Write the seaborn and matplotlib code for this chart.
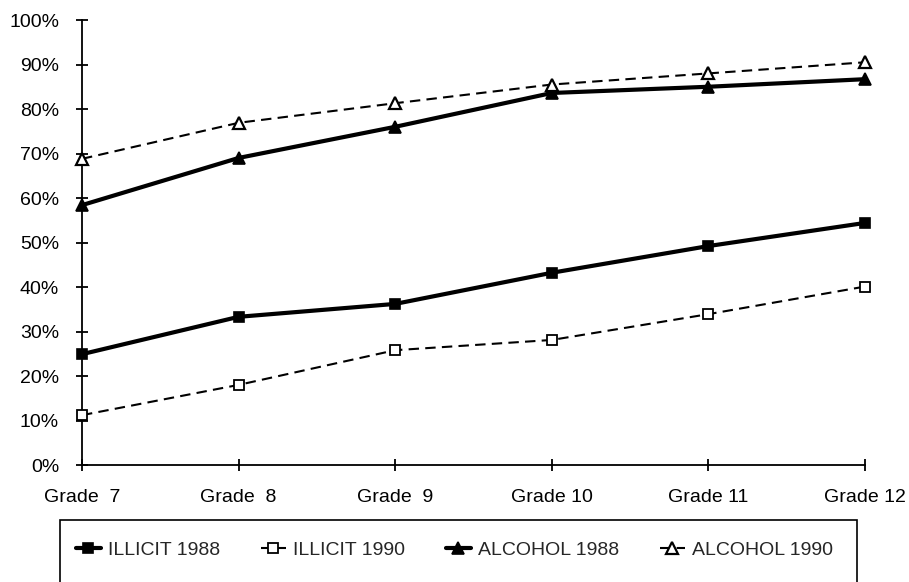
import matplotlib
matplotlib.use('Agg')
import matplotlib.pyplot as plt
import pandas as pd
import seaborn as sns
from matplotlib.patches import Rectangle
from matplotlib.ticker import PercentFormatter

# =========================
# DATA
# =========================
grades = ['Grade  7', 'Grade  8', 'Grade  9', 'Grade 10', 'Grade 11', 'Grade 12']

illicit_1988 = [24.9, 33.3, 36.2, 43.2, 49.2, 54.4]
illicit_1990 = [11.2, 18.0, 25.8, 28.1, 33.9, 40.1]
alcohol_1988 = [58.4, 69.0, 76.0, 83.6, 85.0, 86.7]
alcohol_1990 = [68.8, 76.9, 81.3, 85.5, 88.0, 90.5]

series_names = ['ILLICIT 1988', 'ILLICIT 1990', 'ALCOHOL 1988', 'ALCOHOL 1990']
series_values = [illicit_1988, illicit_1990, alcohol_1988, alcohol_1990]

# =========================
# STYLES
# =========================
styles = {
    'ILLICIT 1988': dict(lw=3.0, ls='-', marker='s', ms=7.5, mfc='black', mew=1.2),
    'ILLICIT 1990': dict(lw=1.5, ls=(0, (5, 3)), marker='s', ms=7.5, mfc='white', mew=1.3),
    'ALCOHOL 1988': dict(lw=3.0, ls='-', marker='^', ms=9, mfc='black', mew=1.2),
    'ALCOHOL 1990': dict(lw=1.5, ls=(0, (5, 3)), marker='^', ms=9, mfc='white', mew=1.6),
}

sns.set_theme(style='white')
plt.rcParams['font.family'] = ['Liberation Sans', 'DejaVu Sans']

df = pd.DataFrame({
    'grade': grades * len(series_names),
    'value': [v for vals in series_values for v in vals],
    'series': [s for s in series_names for _ in grades],
})

fig = plt.figure(figsize=(9.09, 5.82), dpi=100)
ax = fig.add_axes([82 / 909, 1 - 465 / 582, (865 - 82) / 909, 445 / 582])

for name in series_names:
    st = styles[name]
    sns.lineplot(
        data=df[df['series'] == name], x='grade', y='value', ax=ax,
        color='black', linewidth=st['lw'], linestyle=st['ls'],
        marker=st['marker'], markersize=st['ms'], markerfacecolor=st['mfc'],
        markeredgecolor='black', markeredgewidth=st['mew'],
        label=name, clip_on=False, zorder=4,
    )

if ax.get_legend() is not None:
    ax.get_legend().remove()

ax.set_xlim(0, len(grades) - 1)
ax.set_ylim(0, 100)
ax.set_yticks(range(0, 101, 10))
ax.yaxis.set_major_formatter(PercentFormatter(decimals=0))
ax.set_xlabel('')
ax.set_ylabel('')

for side in ['top', 'right']:
    ax.spines[side].set_visible(False)
for side in ['left', 'bottom']:
    ax.spines[side].set_color('black')
    ax.spines[side].set_linewidth(1.3)
    ax.spines[side].set_zorder(3)

ax.tick_params(axis='both', direction='inout', length=9, width=1.3,
               left=True, bottom=True,
               color='black', labelsize=14, labelcolor='black')
ax.tick_params(axis='y', pad=12)
ax.tick_params(axis='x', pad=13)
ax.grid(False)

# legend box, runs past the bottom edge like the original
fig.patches.append(Rectangle((60 / 909, -0.05), 797 / 909, 0.05 + 1 - 520 / 582,
                             transform=fig.transFigure, fill=False,
                             edgecolor='black', linewidth=1.2))

handles, labels = ax.get_legend_handles_labels()
fig.legend(handles, labels, loc='center left', bbox_to_anchor=(68 / 909, 1 - 550 / 582),
           ncol=4, frameon=False, fontsize=14, handlelength=1.3,
           handletextpad=0.35, columnspacing=2.1, borderaxespad=0)

fig.savefig('out.png', dpi=100)
